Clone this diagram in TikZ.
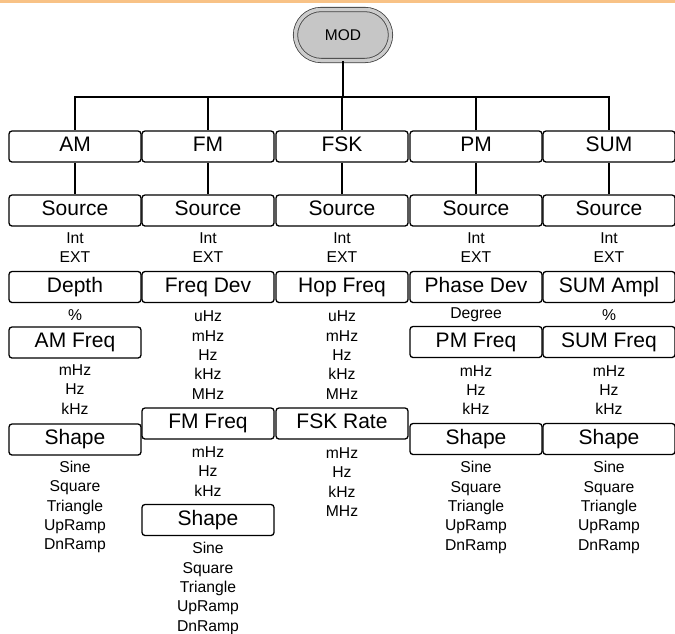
\documentclass[tikz,border=0pt]{standalone}
\usepackage{fontspec}
\setmainfont{Liberation Sans}
\definecolor{barra}{RGB}{248,194,134}

\begin{document}
\begin{tikzpicture}[
  x=1pt, y=-1pt,
  modbtn/.style={draw=black!75, line width=0.8pt, double=gray!40, double distance=3.5pt, fill=gray!45, rounded corners=25.5pt, minimum width=95pt, minimum height=51pt, inner sep=0pt, font=\fontsize{15.5}{18}\selectfont},
  menu/.style={draw=black, line width=1.3pt, rounded corners=3pt, fill=white, minimum width=132pt, minimum height=31pt, inner sep=0pt, text height=15pt, text depth=5pt, font=\fontsize{21}{24}\selectfont},
  opts/.style={align=center, inner sep=0pt, font=\fontsize{15.7}{19.3}\selectfont},
  edge/.style={line width=1.4pt, draw=black}
]
  \useasboundingbox (0,0) rectangle (675,633);
  \fill[barra] (0,0) rectangle (675,2.5);

  % Tecla MOD y bus
  \node[modbtn] (mod) at (343,35) {MOD};
  \coordinate (bus) at (343,97);

  % Fila de modos
  \node[menu] (am)  at (75,146.5)  {AM};
  \node[menu] (fm)  at (208,146.5) {FM};
  \node[menu] (fsk) at (342,146.5) {FSK};
  \node[menu] (pm)  at (476,146.5) {PM};
  \node[menu] (sum) at (609,146.5) {SUM};

  % Source en cada columna
  \foreach \m/\x in {am/75, fm/208, fsk/342, pm/476, sum/609} {
    \node[menu] (\m-src) at (\x,210.5) {Source};
    \node[opts] (\m-int) at (\x,247.5) {Int\\EXT};
  }

  % Columna AM
  \node[menu] (am-depth) at (75,287)   {Depth};
  \node[opts] (am-pct)   at (75,315)   {\%};
  \node[menu] (am-freq)  at (75,342.5) {AM Freq};
  \node[opts] (am-fu)    at (75,389.5) {mHz\\Hz\\kHz};
  \node[menu] (am-shape) at (75,439.5) {Shape};
  \node[opts] (am-wave)  at (75,507)   {Sine\\Square\\Triangle\\UpRamp\\DnRamp};

  % Columna FM
  \node[menu] (fm-dev)   at (208,287)   {Freq Dev};
  \node[opts] (fm-du)    at (208,355)   {uHz\\mHz\\Hz\\kHz\\MHz};
  \node[menu] (fm-freq)  at (208,423.5) {FM Freq};
  \node[opts] (fm-fu)    at (208,471.5) {mHz\\Hz\\kHz};
  \node[menu] (fm-shape) at (208,520)   {Shape};
  \node[opts] (fm-wave)  at (208,588.5) {Sine\\Square\\Triangle\\UpRamp\\DnRamp};

  % Columna FSK
  \node[menu] (fsk-hop)  at (342,287)   {Hop Freq};
  \node[opts] (fsk-hu)   at (342,355)   {uHz\\mHz\\Hz\\kHz\\MHz};
  \node[menu] (fsk-rate) at (342,423.5) {FSK Rate};
  \node[opts] (fsk-ru)   at (342,482)   {mHz\\Hz\\kHz\\MHz};

  % Columna PM
  \node[menu] (pm-dev)   at (476,287)   {Phase Dev};
  \node[opts] (pm-deg)   at (476,315)   {Degree};
  \node[menu] (pm-freq)  at (476,342)   {PM Freq};
  \node[opts] (pm-fu)    at (476,390)   {mHz\\Hz\\kHz};
  \node[menu] (pm-shape) at (476,439)   {Shape};
  \node[opts] (pm-wave)  at (476,507.5) {Sine\\Square\\Triangle\\UpRamp\\DnRamp};

  % Columna SUM
  \node[menu] (sum-ampl)  at (609,287)   {SUM Ampl};
  \node[opts] (sum-pct)   at (609,315)   {\%};
  \node[menu] (sum-freq)  at (609,342)   {SUM Freq};
  \node[opts] (sum-fu)    at (609,390)   {mHz\\Hz\\kHz};
  \node[menu] (sum-shape) at (609,439)   {Shape};
  \node[opts] (sum-wave)  at (609,507.5) {Sine\\Square\\Triangle\\UpRamp\\DnRamp};

  % Conexiones
  \draw[edge] (mod.south) -- (bus);
  \foreach \m in {am, fm, fsk, pm, sum} {
    \draw[edge] (bus) -| (\m.north);
    \draw[edge] (\m.south) -- (\m-src.north);
  }
\end{tikzpicture}
\end{document}
